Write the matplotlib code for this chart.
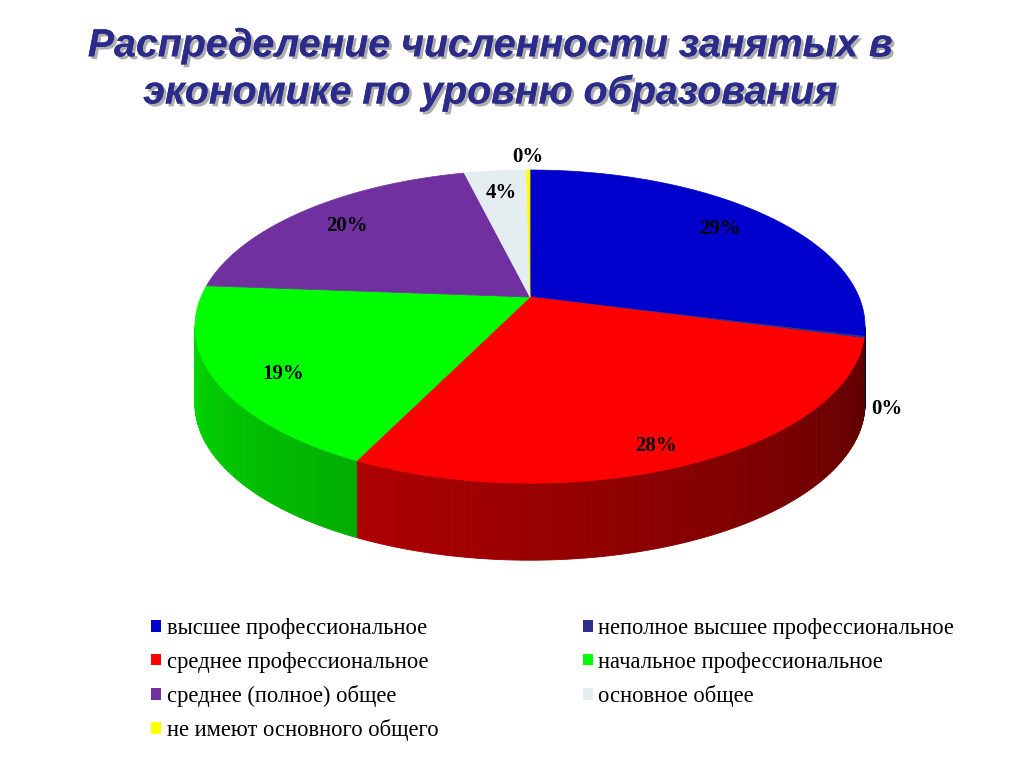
import numpy as np
import matplotlib.pyplot as plt
import matplotlib.patheffects as pe
from matplotlib.patches import Patch
from matplotlib.colors import to_rgb

# data
categories = ['высшее профессиональное',
              'неполное высшее профессиональное',
              'среднее профессиональное',
              'начальное профессиональное',
              'среднее (полное) общее',
              'основное общее',
              'не имеют основного общего']
shares = [29.0, 0.2, 28.0, 19.0, 20.0, 3.6, 0.2]
colors = ['#0000CC', '#2E2E8A', '#FF0000', '#00FF00', '#7030A0', '#E4EEF0', '#FFFF00']
title_lines = ['Распределение численности занятых в',
               'экономике по уровню образования']

# simple perspective projection of a flat cylinder (pixel coords)
CX, CY = 530, 297
A, B, K = 329, 151, 0.189
DEPTH = 77
SIDE_FROM = np.degrees(np.arccos(-K))          # visible side arc
SIDE_TO = 360 - SIDE_FROM


def proj(theta, r=1.0):
    t = np.radians(theta)
    u, w = r * np.sin(t), r * np.cos(t)
    d = 1 + K * w
    return CX + A * u / d, CY - B * w / d


fig = plt.figure(figsize=(10.24, 7.68), dpi=100)
ax = fig.add_axes([0, 0, 1, 1])
ax.set_xlim(0, 1024)
ax.set_ylim(768, 0)
ax.axis('off')

total = sum(shares)
edges = np.concatenate([[0], np.cumsum(shares) / total * 360])

# side walls
for i, c in enumerate(colors):
    a0, a1 = max(edges[i], SIDE_FROM), min(edges[i + 1], SIDE_TO)
    if a1 <= a0:
        continue
    steps = np.linspace(a0, a1, max(2, int((a1 - a0) * 2) + 1))
    base = np.array(to_rgb(c))
    for s0, s1 in zip(steps[:-1], steps[1:]):
        x0, y0 = proj(s0)
        x1, y1 = proj(s1)
        f = 0.35 + 0.5 * ((s0 + s1) / 2 - 100) / 160
        col = np.clip(base * f, 0, 1)
        ax.fill([x0, x1, x1, x0], [y0, y1, y1 + DEPTH, y0 + DEPTH],
                color=col, lw=0.6, ec=col)

# top faces
for i, c in enumerate(colors):
    th = np.linspace(edges[i], edges[i + 1], max(2, int(shares[i] * 4)))
    xs, ys = proj(th)
    ax.fill(np.r_[CX, xs], np.r_[CY, ys], color=c, lw=0.5, ec=c)

# percent labels
for i, s in enumerate(shares):
    mid = (edges[i] + edges[i + 1]) / 2
    w = np.cos(np.radians(mid))
    if s < 1:
        x, y = proj(mid, 1.065 if w < 0 else 1.12)
        if w < 0:
            y += DEPTH * 0.9
    else:
        x, y = proj(mid, 0.8)
        y += DEPTH * 0.3 * max(0, -w)
    ax.text(x, y, f'{round(s)}%', ha='center', va='center',
            family='Liberation Serif', fontweight='bold', fontsize=15)

# title with shadow
for k, line in enumerate(title_lines):
    fig.text(490 / 1024, 1 - (46 + k * 47) / 768, line, ha='center', va='center',
             family='Liberation Sans', fontweight='bold', style='italic',
             fontsize=28.3, color='#2B2B8C',
             path_effects=[pe.withSimplePatchShadow(offset=(2, -2), shadow_rgbFace='#9a9a9a', alpha=0.8),
                           pe.Normal()])

# legend: column-major order to match layout
order = [0, 2, 4, 6, 1, 3, 5]
handles = [Patch(facecolor=colors[j], edgecolor='none', label=categories[j]) for j in order]
ax.legend(handles=handles, loc='upper left', bbox_to_anchor=(131 / 1024, 1 - 598 / 768),
          bbox_transform=fig.transFigure, ncol=2, frameon=False,
          prop={'family': 'Liberation Serif', 'size': 16.3},
          handlelength=0.42, handleheight=0.42, handletextpad=0.25,
          labelspacing=0.54, columnspacing=6.4)

plt.savefig('out.png', dpi=100, facecolor='w')
